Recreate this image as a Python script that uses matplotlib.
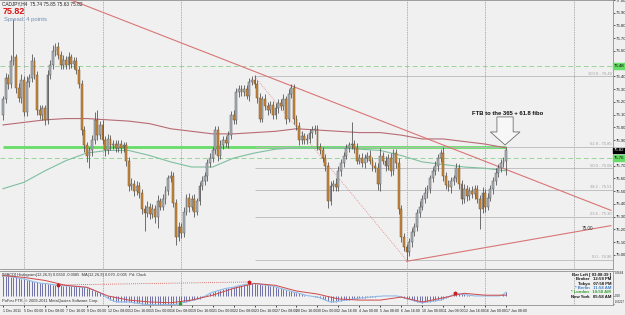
import numpy as np
import pandas as pd
import matplotlib
matplotlib.use("Agg")
import matplotlib.pyplot as plt
import matplotlib.transforms as mtrans
from matplotlib.patches import Polygon

plt.rcParams["font.family"] = ["Liberation Sans", "DejaVu Sans"]

# ---- data (CADJPY H4) ----
closes = [
    76.22, 76.39, 76.34, 76.52, 76.55, 76.31, 76.23, 76.37,
    76.12, 76.36, 76.39, 76.52, 76.41, 76.14, 76.10, 76.15,
    76.06, 76.41, 76.49, 76.60, 76.63, 76.57, 76.49, 76.53,
    76.49, 76.55, 76.50, 76.52, 76.45, 76.34, 75.98, 75.86,
    75.78, 75.82, 75.90, 76.06, 75.94, 76.02, 75.90, 75.82,
    75.91, 75.86, 75.87, 75.84, 75.87, 75.84, 75.86, 75.74,
    75.54, 75.56, 75.50, 75.54, 75.49, 75.36, 75.33, 75.38,
    75.32, 75.36, 75.30, 75.42, 75.38, 75.44, 75.50, 75.60,
    75.62, 75.41, 75.14, 75.22, 75.17, 75.34, 75.45, 75.38,
    75.44, 75.34, 75.42, 75.54, 75.58, 75.62, 75.72, 75.76,
    75.82, 75.98, 75.78, 75.86, 75.90, 75.88, 75.94, 76.10,
    76.06, 76.28, 76.30, 76.28, 76.30, 76.25, 76.36, 76.37,
    76.34, 76.23, 76.07, 76.22, 76.17, 76.14, 76.18, 76.10,
    76.15, 76.19, 76.17, 76.22, 76.07, 76.26, 76.31, 76.07,
    76.01, 75.90, 75.93, 75.90, 75.91, 75.96, 75.98, 75.99,
    75.85, 75.82, 75.76, 75.70, 75.42, 75.54, 75.56, 75.53,
    75.66, 75.72, 75.78, 75.84, 75.86, 75.87, 75.84, 75.74,
    75.76, 75.72, 75.76, 75.78, 75.74, 75.70, 75.68, 75.56,
    75.78, 75.74, 75.70, 75.76, 75.66, 75.80, 75.72, 75.36,
    75.14, 75.06, 75.02, 75.10, 75.18, 75.22, 75.33, 75.38,
    75.44, 75.49, 75.52, 75.60, 75.66, 75.70, 75.76, 75.80,
    75.62, 75.55, 75.53, 75.58, 75.60, 75.68, 75.56, 75.44,
    75.52, 75.46, 75.50, 75.48, 75.52, 75.44, 75.36, 75.49,
    75.38, 75.45, 75.52, 75.58, 75.64, 75.68, 75.72, 75.74,
    75.82]
first_open = 76.10

# wick lengths above / below the body, in pips
wick_up = [
    3, 4, 3, 5, 30, 3, 4, 5,   3, 4, 3, 6, 3, 3, 4, 3,
    3, 4, 4, 5, 3, 4, 3, 4,    3, 4, 3, 3, 3, 3, 3, 3,
    3, 3, 4, 6, 8, 3, 4, 3,    4, 3, 3, 3, 3, 3, 3, 3,
    3, 4, 3, 4, 3, 3, 3, 4,    3, 4, 3, 5, 3, 4, 4, 3,
    4, 3, 3, 4, 3, 4, 3, 4,    3, 4, 3, 3, 4, 3, 3, 4,
    3, 3, 3, 4, 3, 3, 3, 3,    4, 3, 3, 3, 3, 3, 3, 3,
    4, 3, 4, 3, 4, 3, 3, 3,    4, 3, 3, 4, 3, 4, 3, 3,
    3, 3, 4, 3, 4, 3, 3, 3,    3, 3, 3, 3, 3, 4, 3, 4,
    4, 3, 3, 3, 3, 17, 3, 4,   3, 4, 3, 3, 4, 3, 3, 4,
    6, 3, 4, 3, 4, 3, 3, 4,    3, 3, 3, 3, 3, 3, 3, 4,
    3, 4, 3, 3, 3, 4, 3, 3,    5, 3, 4, 3, 3, 4, 3, 3,
    4, 3, 3, 4, 3, 3, 3, 4,    3, 4, 3, 3, 4, 3, 3, 3,
    3]
wick_dn = [
    4, 3, 4, 3, 3, 4, 3, 4,    3, 3, 4, 3, 3, 4, 3, 4,
    4, 3, 3, 3, 4, 3, 3, 3,    3, 3, 3, 4, 3, 3, 4, 5,
    5, 10, 4, 3, 4, 3, 3, 4,   3, 4, 3, 3, 3, 4, 3, 4,
    4, 3, 4, 3, 4, 4, 14, 3,   4, 3, 5, 9, 3, 3, 4, 3,
    3, 3, 6, 3, 4, 3, 3, 4,    3, 4, 3, 3, 3, 3, 4, 3,
    3, 3, 4, 3, 3, 3, 4, 3,    3, 3, 4, 3, 3, 3, 4, 3,
    3, 4, 3, 3, 3, 4, 3, 3,    3, 4, 3, 3, 4, 3, 3, 4,
    3, 4, 3, 3, 3, 3, 4, 3,    3, 3, 3, 4, 5, 3, 4, 3,
    3, 4, 3, 3, 3, 3, 4, 3,    3, 3, 4, 3, 3, 4, 3, 5,
    6, 3, 4, 3, 4, 3, 4, 4,    4, 3, 6, 3, 4, 3, 3, 3,
    3, 3, 4, 3, 3, 3, 4, 3,    4, 3, 3, 4, 3, 3, 4, 4,
    3, 4, 3, 3, 4, 3, 16, 3,   4, 3, 3, 4, 3, 3, 3, 3,
    11]

# moving averages, sampled every 8 bars
ma_red = [76.02, 76.04, 76.06, 76.07, 76.07, 76.06, 76.05, 76.03, 75.99,
          75.97, 75.95, 75.95, 75.96, 75.97, 75.99, 75.98, 75.97, 75.96,
          75.96, 75.94, 75.91, 75.91, 75.89, 75.87, 75.84]
ma_green = [75.52, 75.57, 75.66, 75.74, 75.80, 75.82, 75.82, 75.78, 75.73,
            75.69, 75.69, 75.76, 75.80, 75.83, 75.84, 75.84, 75.84, 75.83,
            75.82, 75.78, 75.73, 75.71, 75.69, 75.68, 75.66]

# MACD histogram (x 0.001) per bar and signal every 8 bars
macd = [
    53, 52, 51, 50, 49, 48, 46, 45,   44, 42, 40, 38, 36, 35, 33, 32,
    32, 31, 30, 29, 28, 27, 27, 26,   26, 25, 25, 24, 24, 23, 22, 22,
    21, 19, 16, 13, 10, 7, 3, -2,     -7, -11, -14, -16, -17, -17, -17, -17,
    -17, -18, -19, -20, -21, -22, -23, -24,  -24, -24, -24, -25, -25, -24, -24, -24,
    -24, -24, -23, -22, -20, -18, -17, -15,  -13, -12, -10, -8, -5, -2, 2, 6,
    9, 11, 13, 15, 17, 19, 20, 21,    22, 24, 26, 27, 29, 30, 31, 32,
    32, 31, 30, 29, 28, 27, 26, 25,   23, 21, 19, 17, 15, 13, 11, 9,
    8, 6, 4, 2, 0, -1, -2, -3,        -4, -6, -9, -12, -15, -17, -17, -16,
    -15, -14, -13, -12, -11, -10, -9, -8,  -7, -6, -6, -5, -4, -3, -3, -2,
    -2, -1, -1, -1, -1, -1, -1, -2,   -4, -6, -8, -10, -12, -14, -16, -18,
    -19, -18, -17, -16, -15, -14, -13, -12,  -9, -6, -3, 0, 3, 6, 5, 4,
    3, 2, 1, 0, -1, -1, -1, -1,       -1, -1, -1, -1, -1, -1, 0, 3,
    9]
signal = [53, 48, 40, 27, 22, -1, -12, -17, -19, -12, 1, 19, 32, 27, 12, 4,
          -9, -12, -12, -4, -17, -6, 6, 1, 1]

last_price = 75.82
green_dash = [76.48, 75.76]
green_line = 75.85
fib_high, fib_low = 76.40, 74.96
fib_levels = [0.0, 23.6, 38.2, 50.0, 61.8, 100.0]

# bar times: H4 bars, weekdays only
times = []
for d in pd.bdate_range("2011-12-01", "2012-01-17"):
    for h in [0, 4, 8, 12, 16, 20]:
        t = d + pd.Timedelta(hours=h)
        if t < pd.Timestamp("2011-12-01 16:00") or t > pd.Timestamp("2012-01-17 08:00"):
            continue
        if d.strftime("%m-%d") in ("12-26", "01-02") and h < 8:
            continue
        times.append(t)

n = len(closes)
idx = np.arange(n)
c = np.array(closes)
o = np.r_[first_open, c[:-1]]
hi = np.maximum(o, c) + np.array(wick_up) / 100
lo = np.minimum(o, c) - np.array(wick_dn) / 100
knots = idx[::8]

# ---- figure ----
W, H = 625, 315
bg = "#f0f0f0"
fig = plt.figure(figsize=(W / 100, H / 100), dpi=100, facecolor=bg)


def px_axes(x0, y0, x1, y1):
    return fig.add_axes([x0 / W, 1 - y1 / H, (x1 - x0) / W, (y1 - y0) / H])


ax = px_axes(0, 0, 613, 269)
ax2 = px_axes(0, 271, 613, 305)
xlim = (-1.15, 232.8)
for a in (ax, ax2):
    a.set_facecolor(bg)
    a.set_xlim(*xlim)
    for s in a.spines.values():
        s.set_color("#909090")
        s.set_linewidth(0.6)
    a.spines["left"].set_visible(False)
    a.yaxis.tick_right()
    a.tick_params(axis="y", labelsize=3.1, length=1.5, width=0.5, pad=0.6, colors="#222222")
ax.set_ylim(74.89, 77.00)
boxed = [last_price] + green_dash
ticks = [t for t in np.arange(75.0, 77.01, 0.1) if min(abs(t - b) for b in boxed) > 0.05]
ax.set_yticks(ticks)
ax.yaxis.set_major_formatter(plt.FormatStrFormatter("%.2f"))
ax.set_xticks([])

# week separators
seps = [i for i, t in enumerate(times) if t.weekday() == 0 and t.hour == 0] + [218]
for a in (ax, ax2):
    for s in seps:
        a.axvline(s, color="#9a9a9a", ls=(0, (1, 1)), lw=0.6, zorder=1)

# horizontal lines
ax.hlines(green_line, 0, n - 1, color="#66dd66", lw=2.0, zorder=2)
for g in green_dash:
    ax.axhline(g, color="#9ad49a", ls=(0, (5, 3)), lw=0.7, zorder=2)

# fibonacci
i_hi = int(np.argmax(hi[80:110])) + 80
i_lo = int(np.argmin(lo[140:170])) + 140
for lv in fib_levels:
    p = fib_low + (fib_high - fib_low) * lv / 100
    ax.hlines(p, i_hi, xlim[1], color="#b9b9b9", lw=0.6, zorder=2)
    ax.text(xlim[1] - 0.5, p + 0.005, f"{lv:.1f} - {p:.2f}", fontsize=3.0,
            color="#a0a0a0", ha="right", va="bottom")
ax.plot([i_hi, i_lo], [fib_high, fib_low], color="#e08080", ls=(0, (1, 1.5)), lw=0.6, zorder=2)

# moving averages
ax.plot(knots, ma_red, color="#b86b74", lw=0.8, zorder=3)
ax.plot(knots, ma_green, color="#7fbf9f", lw=0.8, zorder=3)

# trendlines
ax.plot([26, 232], [77.00, 75.35], color="#d97575", lw=0.8, zorder=3)
ax.plot([154, 232], [74.95, 75.23], color="#d97575", lw=0.8, zorder=3)

# candles
bull = c >= o
ax.vlines(idx, lo, hi, color="#4a4a4a", lw=0.55, zorder=4)
body_b = np.minimum(o, c)
body_h = np.maximum(np.abs(c - o), 0.004)
ax.bar(idx[bull], body_h[bull], bottom=body_b[bull], width=0.7,
       color="#abb3bb", edgecolor="#5a5a5a", linewidth=0.35, zorder=5)
ax.bar(idx[~bull], body_h[~bull], bottom=body_b[~bull], width=0.7,
       color="#c98a3c", edgecolor="#7b5224", linewidth=0.35, zorder=5)

# right-side price boxes
ytrans = mtrans.blended_transform_factory(ax.transAxes, ax.transData)
ax.text(1.002, last_price, f"{last_price:.2f}", transform=ytrans, fontsize=3.1,
        color="white", va="center", ha="left",
        bbox=dict(boxstyle="square,pad=0.2", fc="black", ec="black"), zorder=10)
for g in green_dash:
    ax.text(1.002, g, f"{g:.2f}", transform=ytrans, fontsize=3.1, color="black",
            va="center", ha="left",
            bbox=dict(boxstyle="square,pad=0.2", fc="#66dd66", ec="#66dd66"), zorder=10)

# annotation and arrow
ax.text(192.5, 76.11, "FTB to the 365 + 61.8 fibo", fontsize=4.2, fontweight="bold",
        ha="center", va="center", color="#111111", zorder=8)
arrow = [(188.5, 76.083), (194.7, 76.083), (194.7, 75.965), (197.3, 75.965),
         (191.6, 75.863), (186.0, 75.965), (188.5, 75.965)]
ax.add_patch(Polygon(arrow, closed=True, fc="#f7f7f7", ec="#707070", lw=0.6, zorder=8))
ax.text(221, 75.21, "75.00", fontsize=3.3, color="#333333", ha="left", va="center")

# header texts
fig.text(2 / W, 1 - 4 / H, "CADJPY,H4  75.74 75.85 75.63 75.82", fontsize=3.4,
         color="#222222", va="center")
fig.text(3 / W, 1 - 11 / H, "75.82", fontsize=6.5, color="#dd1111", fontweight="bold",
         va="center")
fig.text(4 / W, 1 - 19 / H, "Spread: 4 points", fontsize=4.2, color="#6f8fb0", va="center")

# ---- MACD window ----
mv = np.array(macd) / 1000
ax2.set_ylim(-0.025, 0.065)
ax2.vlines(idx, 0, mv, color="#4d4d98", lw=0.55, zorder=3)
ax2.plot(idx, mv, color="#8fbbe9", lw=0.8, zorder=4)
ax2.plot(knots, np.array(signal) / 1000, color="#d04848", lw=0.7, zorder=5)
ax2.plot([21, 94], [0.028, 0.036], color="#d04848", ls=(0, (1, 1.5)), lw=0.6, zorder=5)
ax2.plot([21, 94, 172.5], [0.028, 0.036, 0.007], ls="none", marker="*", ms=2.5,
         color="#cc2020", zorder=6)
ax2.plot([67.5], [-0.019], ls="none", marker="^", ms=1.8, color="#2a9a2a", zorder=6)
ax2.set_yticks([0.0644, 0.0, -0.0227])
ax2.set_yticklabels(["0.0644", "0.00", "-0.0227"])
ax2.tick_params(axis="y", labelsize=2.2, length=1, pad=0.3)
tl = ax2.get_yticklabels()
tl[0].set_va("top")
tl[2].set_va("bottom")
ax2.text(0.003, 0.93, "[MACD] Histogram(12,26,9) 0.0350 -0.0085  MA(12,26,9) 0.070 -0.005  Pd: Clock",
         transform=ax2.transAxes, fontsize=2.9, color="#333333", va="top")
ax2.text(0.003, 0.05, "PoFou FTR, \u00a9 2009-2011 MetaQuotes Software Corp.",
         transform=ax2.transAxes, fontsize=2.9, color="#333333", va="bottom")

info = [("Bar Left [ 03:08:39 ]", "#111111"), ("Broker   12:58 PM", "#111111"),
        ("Tokyo   07:58 PM", "#111111"), ("* Berlin   11:58 AM", "#3d7fc8"),
        ("* London   10:58 AM", "#2e9e2e"), ("New York   05:58 AM", "#111111")]
for k, (txt, col) in enumerate(info):
    fig.text(611 / W, 1 - (275 + 4.3 * k) / H, txt, fontsize=3.1, color=col,
             ha="right", va="center", fontweight="bold")

# date labels every 8 bars from the last bar
lab_idx = list(range(n - 1, -1, -8))[::-1]
labels = [times[i].strftime("%-d %b %H:%M") for i in lab_idx]
if lab_idx[0] == 0:
    labels[0] = times[0].strftime("%-d %b %Y")
ax2.set_xticks(lab_idx)
ax2.set_xticklabels(labels, fontsize=2.6, ha="left", color="#222222")
ax2.tick_params(axis="x", length=1.5, width=0.5, pad=1.2)

fig.savefig("out.png", dpi=100, facecolor=bg)
